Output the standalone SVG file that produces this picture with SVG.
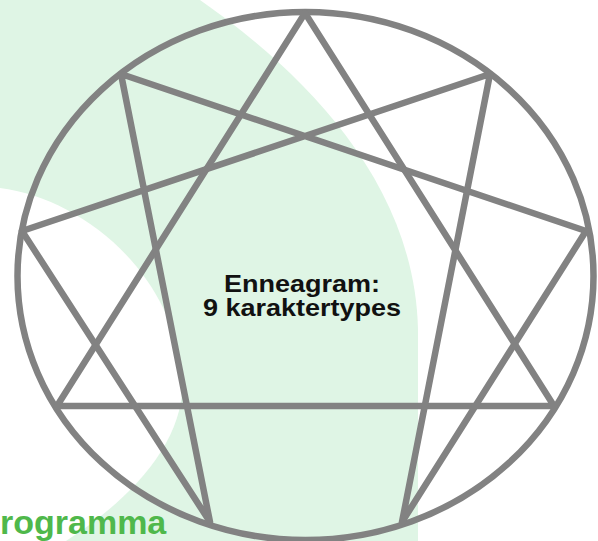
<svg xmlns="http://www.w3.org/2000/svg" width="598" height="541" viewBox="0 0 598 541">
<style>
.ln{fill:none;stroke:#828282;stroke-width:6.5;stroke-linejoin:round;stroke-linecap:round}
.t{font-family:"Liberation Sans",Arial,sans-serif;font-weight:bold;text-anchor:middle;fill:#111;font-size:23.5px}
</style>
<rect width="598" height="541" fill="#ffffff"/>
<g id="background">
<path d="M0,0 L200,0 C300,70 415,180 418,330 L418,541 L0,541 Z" fill="#dff5e5"/>
<path d="M0,188 C80,198 172,270 182,375 C188,440 130,500 66,541 L0,541 Z" fill="#ffffff"/>
</g>
<g id="connectors">
<ellipse class="ln" cx="305.5" cy="276" rx="288" ry="264"/>
<polygon class="ln" points="305,13 554,406 57,406"/>
<polygon class="ln" points="490,74 402,522 586,231 121,74 210,522 22,231"/>
</g>
<g id="title" transform="translate(302,0) scale(1.15,1)">
<text class="t" x="0" y="292.5">Enneagram:</text>
<text class="t" x="0" y="316.5">9 karaktertypes</text>
</g>
<g id="footer">
<text x="0" y="534" font-family="Liberation Sans,Arial,sans-serif" font-weight="bold" font-size="34" fill="#4fb84b">rogramma</text>
</g>
</svg>
